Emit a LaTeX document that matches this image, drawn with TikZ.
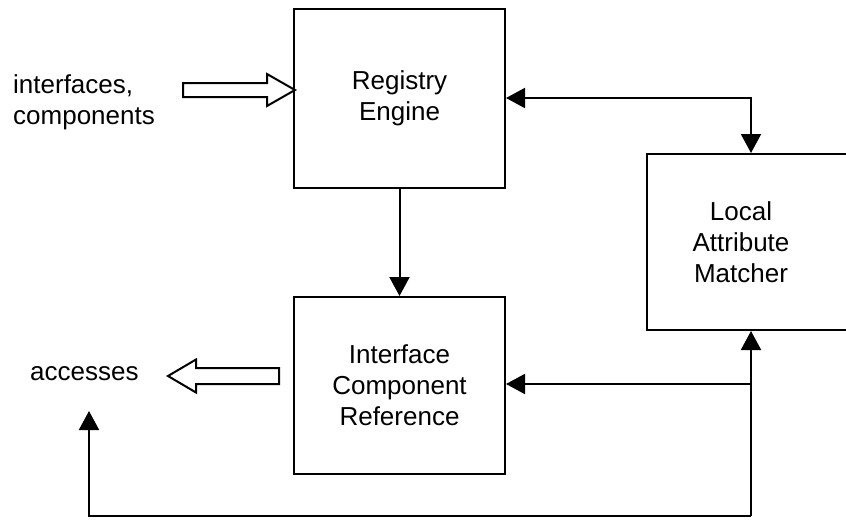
\documentclass[tikz,border=0pt]{standalone}
\usepackage{fontspec}
\setmainfont{Liberation Sans}
\usetikzlibrary{arrows.meta}
\begin{document}
\begin{tikzpicture}[x=1pt,y=-1pt,
  txt/.style={font=\fontsize{26}{31}\selectfont},
  box/.style={draw, line width=2pt, rectangle, inner sep=0pt, align=center, txt},
  lbl/.style={inner sep=0pt, align=left, txt},
  conn/.style={line width=2pt, line join=miter, -{Triangle[width=20pt,length=19pt]}},
  dconn/.style={line width=2pt, line join=miter, {Triangle[width=20pt,length=19pt]}-{Triangle[width=20pt,length=19pt]}},
  hollow/.style={draw, line width=2pt, fill=white, line join=miter}]
\useasboundingbox (0,0) rectangle (846,520);

% blocks
\node[box, minimum width=211pt, minimum height=179pt] (reg) at (399.5,98.5) {Registry\\Engine};
\node[box, minimum width=211pt, minimum height=177pt] (icr) at (399.5,385.5) {Interface\\Component\\Reference};
\node[box, minimum width=220pt, minimum height=176pt] (lam) at (757,242) {};
\node[txt, align=center, inner sep=0pt] (lamtext) at (741,242) {Local\\Attribute\\Matcher};

% outside labels
\node[lbl, anchor=west] (inp) at (13,102) {interfaces,\\components};
\node[lbl, anchor=west] (out) at (30,374) {accesses};

% hollow flow arrows
\draw[hollow] (183,83) -- (267,83) -- (267,74) -- (295,90) -- (267,106) -- (267,97) -- (183,97) -- cycle;
\draw[hollow] (279,368) -- (196,368) -- (196,359.5) -- (168,376) -- (196,392.5) -- (196,384) -- (279,384) -- cycle;

% connectors
\coordinate (tr) at (751,98);
\coordinate (br) at (751,516);
\coordinate (mid) at (751,384);
\coordinate (bl) at (89,411);
\draw[dconn] (reg.east |- tr) -| (lam.north -| tr);
\draw[conn] (reg.south) -- (icr.north);
\draw[conn] (br) -- (lam.south -| br);
\draw[conn] (mid) -- (icr.east |- mid);
\draw[conn] (br) -| (bl);
\end{tikzpicture}
\end{document}
